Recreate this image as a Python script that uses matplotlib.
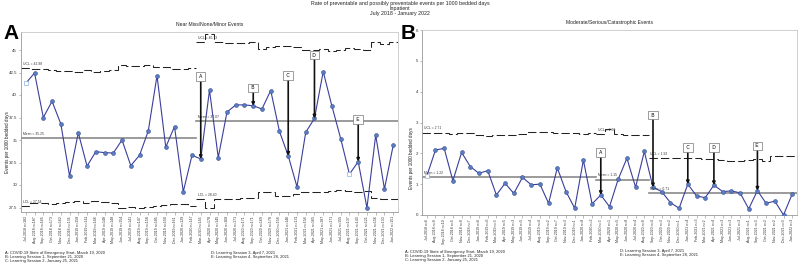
import numpy as np
import pandas as pd
import matplotlib
matplotlib.use("Agg")
import matplotlib.pyplot as plt

plt.rcParams['font.family'] = ['Liberation Sans', 'DejaVu Sans']

# ---------------- data ----------------
months = list(pd.date_range('2018-07-01', periods=43, freq='MS').strftime('%b-%Y'))

rate_a = [41.3, 42.45, 37.5, 39.3, 36.8, 31.0, 35.8, 32.1, 33.7, 33.6, 33.55, 35.0, 32.15,
          33.3, 36.0, 42.15, 34.2, 36.5, 29.25, 33.3,
          32.9, 40.55, 33.05, 38.1, 38.9, 38.9, 38.8, 38.45, 40.5, 35.95, 33.25, 29.8,
          35.85, 37.4, 42.6, 38.75, 35.15, 31.2, 32.6, 27.45, 35.55, 29.55, 34.4]
n_a = [182, 187, 165, 173, 162, 136, 158, 141, 148, 148, 148, 154, 141, 147, 158, 185,
       150, 161, 129, 147, 145, 178, 145, 168, 171, 171, 171, 169, 178, 158, 146, 131,
       158, 165, 187, 171, 155, 137, 143, 121, 156, 130, 151]
ucl_a = [42.95, 42.89, 42.89, 42.82, 42.7, 42.7, 42.6, 42.78, 42.52, 42.63, 42.78, 43.37,
         43.26, 43.26, 43.33, 43.15, 43.07, 42.89, 42.89, 43.0,
         45.9, 46.78, 45.85, 45.75, 45.74, 45.74, 45.85, 45.11, 45.3, 45.48, 45.48, 45.37,
         45.04, 45.04, 45.1, 44.9, 45.0, 45.2, 45.1, 45.0, 45.85, 45.67, 45.93]
lcl_a = [27.7, 27.96, 27.96, 27.89, 27.96, 28.15, 28.19, 27.96, 28.19, 28.15, 27.96, 27.44,
         27.52, 27.44, 27.59, 27.7, 27.78, 27.89, 27.89, 27.7,
         28.4, 27.5, 28.44, 28.5, 28.5, 28.6, 28.6, 29.2, 29.2, 28.8, 28.8, 28.95,
         29.2, 29.2, 29.2, 29.3, 29.4, 29.3, 29.2, 29.3, 28.6, 28.5, 28.44]
phase_a = [0, 20, 43]
mean_a = [35.25, 37.07]
ucl_lab_a = [42.98, 45.73]
lcl_lab_a = [27.54, 28.40]

rate_b = [1.26, 2.11, 2.16, 1.11, 2.03, 1.57, 1.35, 1.44, 0.65, 1.03, 0.70, 1.22, 0.98,
          1.0, 0.38, 1.53, 0.76, 0.22, 1.78, 0.36,
          0.65, 0.27, 1.16, 1.84, 0.9, 2.06,
          0.9, 0.76, 0.40, 0.22, 1.0, 0.62, 0.56, 0.97, 0.76, 0.78, 0.72, 0.2, 0.79,
          0.38, 0.45, 0.0, 0.68]
n_b = [6, 9, 10, 5, 9, 7, 6, 6, 3, 5, 3, 5, 4, 4, 2, 7, 3, 1, 8, 2, 3, 1, 5, 8, 4, 9,
       4, 3, 2, 1, 4, 3, 2, 4, 3, 3, 3, 1, 3, 2, 2, 0, 3]
ucl_b = [2.67, 2.67, 2.65, 2.63, 2.65, 2.65, 2.59, 2.56, 2.59, 2.59, 2.59, 2.62, 2.70,
         2.68, 2.70, 2.65, 2.65, 2.67, 2.62, 2.65,
         2.62, 2.78, 2.62, 2.60, 2.60, 2.60,
         1.84, 1.84, 1.86, 1.86, 1.84, 1.84, 1.82, 1.82, 1.78, 1.76, 1.76, 1.78, 1.82,
         1.76, 1.91, 1.91, 1.91]
phase_b = [0, 20, 26, 43]
mean_b = [1.22, 1.15, 0.71]
ucl_lab_b = [2.71, 2.60, 1.92]

event_letters = ['A', 'B', 'C', 'D', 'E']
event_idx = [20, 26, 30, 33, 38]
box_y_a = [42.06, 40.78, 42.17, 44.44, 37.28]
box_y_b = [2.03, 3.24, 2.2, 2.2, 2.24]
open_a = [0, 37]
open_b = [0]

notes_left = ("A: COVID-19 State of Emergency Start- March 19, 2020\n"
              "B: Learning Session 1- September 21, 2020\n"
              "C: Learning Session 2- January 25, 2021")
notes_right = ("D: Learning Session 3- April 7, 2021\n"
               "E: Learning Session 4- September 28, 2021")

# ---------------- figure ----------------
W, H = 800, 266
fig = plt.figure(figsize=(8, 2.66), dpi=100)
fig.patch.set_facecolor('white')

LINE_C = '#3b3f9a'
MK_FC = '#5b7cc4'
MK_EC = '#34508f'
GRID_C = '#c8c8c8'


def px(x, y):
    return x / W, 1 - y / H


def draw_panel(ax, rate, n, ucl, lcl, phases, means, ucl_lab, lcl_lab, box_y, opens, ylim, yticks, yticklabels):
    x = np.arange(len(rate))
    ax.set_xlim(-0.55, len(rate) - 0.45)
    ax.set_ylim(*ylim)
    for sp in ax.spines.values():
        sp.set_color(GRID_C)
        sp.set_linewidth(0.6)
    ax.spines['left'].set_color('#999999')
    ax.spines['bottom'].set_color('#999999')
    ax.set_yticks(yticks)
    ax.set_yticklabels(yticklabels)
    ax.set_xticks(x)
    ax.set_xticklabels([f'{m} n={k}' for m, k in zip(months, n)], rotation=90)
    ax.tick_params(axis='both', labelsize=2.6, length=1.8, width=0.4, color='#888888',
                   labelcolor='#333333', pad=1)
    ax.tick_params(axis='y', labelsize=3.2)
    span = ylim[1] - ylim[0]
    for k in range(len(phases) - 1):
        s, e = phases[k], phases[k + 1]
        edges = np.arange(s - 0.5, e)
        left = s - 0.5
        # control limits
        ax.stairs(ucl[s:e], edges, baseline=None, color='#222222', lw=0.75,
                  linestyle=(0, (8, 3)), zorder=2)
        ax.text(left + 0.2, ucl[s] + span * 0.012, f'UCL = {ucl_lab[k]:.2f}',
                fontsize=2.4, color='#333333', va='bottom', ha='left', zorder=5)
        if lcl is not None:
            ax.stairs(lcl[s:e], edges, baseline=None, color='#222222', lw=0.75,
                      linestyle=(0, (8, 3)), zorder=2)
            ax.text(left + 0.2, lcl[s] + span * 0.012, f'LCL = {lcl_lab[k]:.2f}',
                    fontsize=2.4, color='#333333', va='bottom', ha='left', zorder=5)
        # mean
        ax.plot([left, e - 0.5], [means[k], means[k]], color='#8a8a8a', lw=1.2, zorder=2)
        ax.text(left + 0.2, means[k] + span * 0.012, f'Mean = {means[k]:.2f}',
                fontsize=2.4, color='#333333', va='bottom', ha='left', zorder=5)
    ax.plot(x, rate, color=LINE_C, lw=0.8, zorder=3)
    filled = [i for i in x if i not in opens]
    ax.plot(x[filled], np.array(rate)[filled], linestyle='none', marker='o', ms=2.8,
            mfc=MK_FC, mec=MK_EC, mew=0.4, zorder=4)
    ax.plot(x[opens], np.array(rate)[opens], linestyle='none', marker='s', ms=2.6,
            mfc='white', mec='#8fb0e0', mew=0.5, zorder=4)
    for lab, i, by in zip(event_letters, event_idx, box_y):
        ax.annotate(f' {lab} ', xy=(i, rate[i]), xytext=(i, by), fontsize=3.4,
                    ha='center', va='center', zorder=6,
                    bbox=dict(boxstyle='square,pad=0.4', fc='white', ec='#777777', lw=0.5),
                    arrowprops=dict(arrowstyle='-|>', color='#111111', lw=1.2,
                                    mutation_scale=4, shrinkA=0, shrinkB=0))


# panel A
axA = fig.add_axes([21 / W, 1 - 212 / H, 377 / W, 180 / H])
draw_panel(axA, rate_a, n_a, ucl_a, lcl_a, phase_a, mean_a, ucl_lab_a, lcl_lab_a,
           box_y_a, open_a, (27.0, 47.0),
           [27.5, 30, 32.5, 35, 37.5, 40, 42.5, 45],
           ['27.5', '30', '32.5', '35', '37.5', '40', '42.5', '45'])
axA.set_title('Near Miss/None/Minor Events', fontsize=3.6, pad=4, color='#222222')

# panel B
axB = fig.add_axes([422 / W, 1 - 215 / H, 375 / W, 185 / H])
draw_panel(axB, rate_b, n_b, ucl_b, None, phase_b, mean_b, ucl_lab_b, None,
           box_y_b, open_b, (0, 6), [0, 1, 2, 3, 4, 5, 6],
           ['0', '1', '2', '3', '4', '5', '6'])
axB.set_title('Moderate/Serious/Catastrophic Events', fontsize=3.6, pad=4, color='#222222')

# y labels
fig.text(*px(7, 142), 'Events per 1000 bedded days', rotation=90, fontsize=3.3,
         ha='center', va='center', color='#222222')
fig.text(*px(411, 158), 'Events per 1000 bedded days', rotation=90, fontsize=3.3,
         ha='center', va='center', color='#222222')

# panel letters
fig.text(*px(3, 39), 'A', fontsize=15, fontweight='bold', ha='left', va='baseline')
fig.text(*px(401, 39), 'B', fontsize=15, fontweight='bold', ha='left', va='baseline')

# main title
fig.text(*px(400, 1), 'Rate of preventable and possibly preventable events per 1000 bedded days\n'
         'Inpatient\nJuly 2018 - January 2022', fontsize=3.8, ha='center', va='top',
         linespacing=1.05, color='#222222')

# footnotes
fig.text(*px(5, 251), notes_left, fontsize=2.9, ha='left', va='top', linespacing=1.05,
         color='#222222')
fig.text(*px(211, 251), notes_right, fontsize=2.9, ha='left', va='top', linespacing=1.05,
         color='#222222')
fig.text(*px(405, 250), notes_left, fontsize=2.9, ha='left', va='top', linespacing=1.05,
         color='#222222')
fig.text(*px(620, 249), notes_right, fontsize=2.9, ha='left', va='top', linespacing=1.05,
         color='#222222')

fig.savefig('out.png', dpi=100, facecolor='white')
